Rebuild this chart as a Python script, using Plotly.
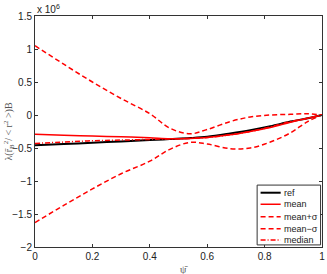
import plotly.graph_objects as go

psi = [0.0, 0.1, 0.2, 0.3, 0.4, 0.47, 0.54, 0.6, 0.68, 0.75, 0.82, 0.89, 0.95, 1.0]
ref = [-0.46, -0.44, -0.42, -0.40, -0.38, -0.365, -0.35, -0.33, -0.28, -0.23, -0.17, -0.10, -0.05, 0.0]
mean = [-0.29, -0.305, -0.32, -0.33, -0.345, -0.36, -0.355, -0.34, -0.30, -0.25, -0.19, -0.11, -0.05, 0.0]
mean_plus = [1.05, 0.77, 0.50, 0.25, 0.02, -0.20, -0.285, -0.22, -0.10, -0.03, 0.0, 0.01, 0.02, 0.0]
mean_minus = [-1.63, -1.37, -1.12, -0.89, -0.70, -0.52, -0.415, -0.44, -0.51, -0.50, -0.41, -0.27, -0.10, 0.0]
median = [-0.43, -0.41, -0.39, -0.38, -0.37, -0.36, -0.355, -0.34, -0.30, -0.25, -0.18, -0.10, -0.05, 0.0]

xticks = [0, 0.2, 0.4, 0.6, 0.8, 1]
xticklabels = ["0", "0.2", "0.4", "0.6", "0.8", "1"]
yticks = [-2, -1.5, -1, -0.5, 0, 0.5, 1, 1.5]
yticklabels = ["\u22122", "\u22121.5", "\u22121", "\u22120.5", "0", "0.5", "1", "1.5"]

names = ["ref", "mean", "mean+\u03c3", "mean\u2212\u03c3", "median"]
colors = ["black", "red", "red", "red", "red"]
widths = [2, 1.5, 1.5, 1.5, 1.5]
dashes = ["solid", "solid", "5px,3px", "5px,3px", "5px,2px,1px,2px"]
series = [ref, mean, mean_plus, mean_minus, median]

fig = go.Figure()
for nm, ys, c, w, d in zip(names, series, colors, widths, dashes):
    fig.add_trace(go.Scatter(x=psi, y=ys, mode="lines", name=nm, showlegend=False,
                             line=dict(color=c, width=w, dash=d, shape="spline")))

tickfont = dict(family="Liberation Sans, Arial", size=10, color="#222")
axcommon = dict(showgrid=False, zeroline=False, showline=True, linecolor="#333", linewidth=1,
                mirror="allticks", ticks="inside", ticklen=3, tickcolor="#333",
                tickfont=tickfont, automargin=False)

fig.update_xaxes(range=[0, 1], tickvals=xticks, ticktext=xticklabels, **axcommon)
fig.update_yaxes(range=[-2, 1.5], tickvals=yticks, ticktext=yticklabels, **axcommon)

# axis titles
fig.add_annotation(text="\u03c8\u0304", xref="paper", yref="paper", x=0.52, y=0,
                   xanchor="center", yanchor="top", yshift=-15, showarrow=False,
                   font=dict(family="Liberation Serif", size=10, color="#555"))
fig.add_annotation(text="\u03bb(r\u0304<sub>B</sub><sup>2</sup>/ < r<sup>2</sup> >)B",
                   xref="paper", yref="paper", x=0, y=0.5, xanchor="center", yanchor="middle",
                   xshift=-27, textangle=-90, showarrow=False,
                   font=dict(family="Liberation Serif", size=10, color="#555"))
fig.add_annotation(text="x 10<sup>6</sup>", xref="paper", yref="paper", x=0, y=1,
                   xanchor="left", yanchor="bottom", showarrow=False, yshift=-1,
                   font=dict(family="Liberation Sans, Arial", size=10, color="#222"))

# manual legend (paper coordinates)
lx0, lx1, ly0, ly1 = 0.774, 0.995, 0.009, 0.268
fig.add_shape(type="rect", xref="paper", yref="paper", x0=lx0, x1=lx1, y0=ly0, y1=ly1,
              line=dict(color="#333", width=1), fillcolor="white", layer="above")
row_y = [0.235, 0.185, 0.131, 0.079, 0.030]
for nm, c, w, d, yy in zip(names, colors, widths, dashes, row_y):
    fig.add_shape(type="line", xref="paper", yref="paper", x0=0.786, x1=0.856, y0=yy, y1=yy,
                  line=dict(color=c, width=w, dash=d), layer="above")
    fig.add_annotation(text=nm, xref="paper", yref="paper", x=0.860, y=yy, xanchor="left",
                       yanchor="middle", showarrow=False,
                       font=dict(family="Liberation Sans, Arial", size=9, color="#222"))

fig.update_layout(
    width=327, height=274,
    margin=dict(l=35, r=5, t=16, b=27),
    plot_bgcolor="white", paper_bgcolor="white",
    showlegend=False,
)

fig.write_html("out.html", config={"displayModeBar": False},
               post_script="document.body.style.margin='0';document.body.style.overflow='hidden';")
